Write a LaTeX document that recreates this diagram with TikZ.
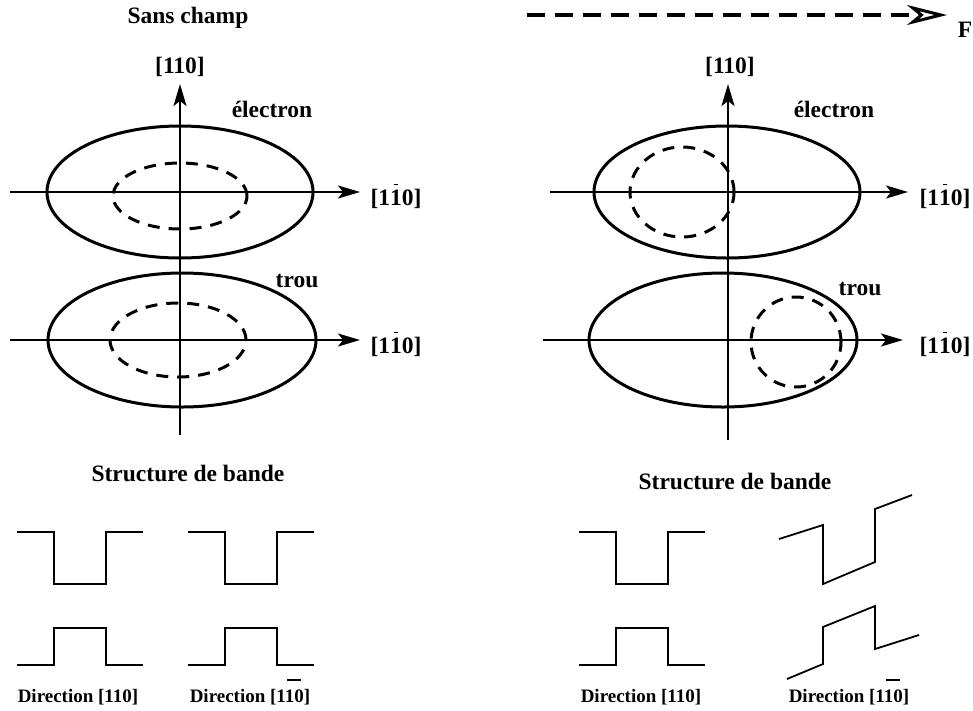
\documentclass[tikz,border=0pt]{standalone}
\usepackage{fontspec}
\setmainfont{Liberation Serif}
\usetikzlibrary{arrows.meta}

\begin{document}
\begin{tikzpicture}[x=1pt, y=-1pt, font=\bfseries\fontsize{23.5}{28}\selectfont]
			\tikzset{asse/.style={line width=1.8pt, -{Stealth[length=22pt, width=13pt, inset=5pt]}},
				ellisse/.style={line width=3pt},
				tratteggio/.style={line width=3pt, dash pattern=on 12pt off 9pt},
				forza/.style={line width=3.5pt, dash pattern=on 18pt off 10pt, -{Stealth[open, length=40pt, width=20pt, inset=12pt, line width=3pt]}},
				onda/.style={line width=1.8pt},
				etichetta/.style={anchor=base, inner sep=0pt},
				piccolo/.style={anchor=base, inner sep=0pt, font=\bfseries\fontsize{19}{22}\selectfont}}
			\useasboundingbox (0,0) rectangle (973,710);
			
			% Titoli
			\node[etichetta] (sans) at (188,23) {Sans champ};
			\coordinate (Fw) at (527,15);
			\coordinate (Fe) at (947,15);
			\draw[forza] (Fw) -- (Fe);
			\node[etichetta] (F) at (965,37) {F};
			
			% Assi a sinistra
			\coordinate (AvS) at (180,435);
			\coordinate (AvN) at (180,84);
			\coordinate (A1w) at (10,192);
			\coordinate (A1e) at (360,192);
			\coordinate (A2w) at (10,340);
			\coordinate (A2e) at (360,340);
			\draw[asse] (AvS) -- (AvN);
			\draw[asse] (A1w) -- (A1e);
			\draw[asse] (A2w) -- (A2e);
			
			% Assi a destra
			\coordinate (BvS) at (728,440);
			\coordinate (BvN) at (728,84);
			\coordinate (B1w) at (550,192);
			\coordinate (B1e) at (908,192);
			\coordinate (B2w) at (543,340);
			\coordinate (B2e) at (903,340);
			\draw[asse] (BvS) -- (BvN);
			\draw[asse] (B1w) -- (B1e);
			\draw[asse] (B2w) -- (B2e);
			
			% Ellissi senza campo
			\draw[ellisse] (180,192) ellipse [x radius=133pt, y radius=66pt];
			\draw[ellisse] (182,340) ellipse [x radius=134pt, y radius=67pt];
			\draw[tratteggio] (180,196) ellipse [x radius=67pt, y radius=33pt];
			\draw[tratteggio] (178,340) ellipse [x radius=68pt, y radius=37pt];
			
			% Ellissi con campo
			\draw[ellisse] (727,192) ellipse [x radius=133pt, y radius=66pt];
			\draw[ellisse] (723,340) ellipse [x radius=134pt, y radius=67pt];
			\draw[tratteggio] (682,192) ellipse [x radius=52pt, y radius=45pt];
			\draw[tratteggio] (796,342) ellipse [x radius=45pt, y radius=45pt];
			
			% Etichette
			\node[etichetta] (dirA) at (180,73) {[110]};
			\node[etichetta] (elA) at (272,117) {électron};
			\node[etichetta] (trA) at (297,287) {trou};
			\node[etichetta] (hA1) at (396,205) {[1\rlap{\kern4pt\rule[20pt]{4pt}{1.2pt}}10]};
			\node[etichetta] (hA2) at (396,353) {[1\rlap{\kern4pt\rule[20pt]{4pt}{1.2pt}}10]};
			\node[etichetta] (dirB) at (730,73) {[110]};
			\node[etichetta] (elB) at (834,117) {électron};
			\node[etichetta] (trB) at (860,295) {trou};
			\node[etichetta] (hB1) at (945,205) {[1\rlap{\kern4pt\rule[20pt]{4pt}{1.2pt}}10]};
			\node[etichetta] (hB2) at (945,353) {[1\rlap{\kern4pt\rule[20pt]{4pt}{1.2pt}}10]};
			
			% Structure de bande
			\node[etichetta] (strA) at (188,481) {Structure de bande};
			\node[etichetta] (strB) at (735,489) {Structure de bande};
			\foreach \x in {17,188,579} {
				\draw[onda] (\x,532) -- ++(37,0) -- ++(0,52) -- ++(52,0) -- ++(0,-52) -- ++(37,0);
				\draw[onda] (\x,665) -- ++(37,0) -- ++(0,-37) -- ++(52,0) -- ++(0,37) -- ++(37,0);
			}
			\draw[onda] (779,539) -- (823,525) -- (823,584) -- (875,562) -- (875,509) -- (912,495);
			\draw[onda] (787,679) -- (823,664) -- (823,627) -- (875,606) -- (875,649) -- (919,635);
			
			\node[piccolo] (dA1) at (78,702) {Direction [110]};
			\node[piccolo] (dA2) at (250,702) {Direction [11\rlap{\kern-7pt\rule[21pt]{14pt}{2pt}}0]};
			\node[piccolo] (dB1) at (641,702) {Direction [110]};
			\node[piccolo] (dB2) at (849,702) {Direction [11\rlap{\kern-7pt\rule[21pt]{14pt}{2pt}}0]};
		\end{tikzpicture}
\end{document}
